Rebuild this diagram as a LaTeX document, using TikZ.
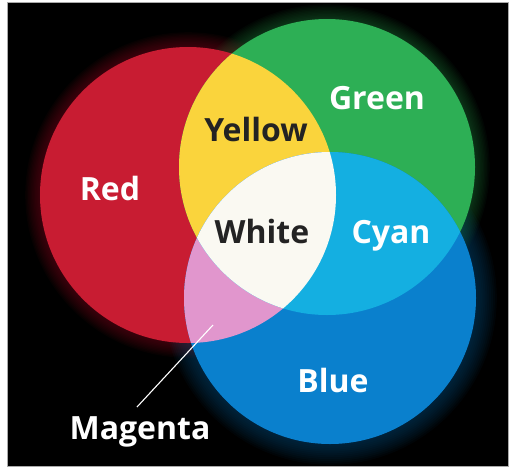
\documentclass[tikz,border=0pt]{standalone}
\usepackage{fontspec}
\setmainfont{Open Sans}
\definecolor{cR}{RGB}{200,28,50}
\definecolor{cG}{RGB}{45,175,85}
\definecolor{cB}{RGB}{10,128,205}
\definecolor{cY}{RGB}{250,212,60}
\definecolor{cM}{RGB}{225,150,205}
\definecolor{cC}{RGB}{20,175,225}
\definecolor{cW}{RGB}{250,249,242}
\definecolor{txtdark}{RGB}{35,35,35}
\definecolor{frame}{RGB}{170,170,170}
\tikzset{
  lbl/.style={font=\bfseries\fontsize{32}{36}\selectfont, anchor=base, inner sep=0pt},
  lightlbl/.style={lbl, text=white},
  darklbl/.style={lbl, text=txtdark},
  pointer/.style={draw=white, line width=1.1pt},
}
\begin{document}
\begin{tikzpicture}[x=1pt,y=-1pt]
\useasboundingbox (0,0) rectangle (511,469);
\fill[white] (0,0) rectangle (511,469);
\filldraw[fill=black, draw=frame, line width=0.8pt] (7.5,2.5) rectangle (508,466.5);
\coordinate (R) at (188,195);
\coordinate (G) at (327,167);
\coordinate (B) at (330,298);
% soft glows fading into the black
\foreach \i in {1,...,12} {
  \fill[cR!70!black, opacity=0.05] (R) circle ({146+\i*1.4});
  \fill[cG!70!black, opacity=0.05] (G) circle ({146+\i*1.4});
  \fill[cB!60!black, opacity=0.06] (B) circle ({144+\i*1.9});
}
% primary discs
\fill[cR] (R) circle (148);
\fill[cG] (G) circle (148);
\fill[cB] (B) circle (146);
% pair overlaps
\begin{scope}\clip (R) circle (148); \fill[cY] (G) circle (148);\end{scope}
\begin{scope}\clip (R) circle (148); \fill[cM] (B) circle (146);\end{scope}
\begin{scope}\clip (G) circle (148); \fill[cC] (B) circle (146);\end{scope}
\begin{scope}\clip (R) circle (148); \clip (G) circle (148); \fill[cW] (B) circle (146);\end{scope}
% labels
\node[lightlbl] (red) at (110,200) {Red};
\node[darklbl] (yellow) at (256,141) {Yellow};
\node[lightlbl] (green) at (377,109) {Green};
\node[darklbl] (white) at (262,243) {White};
\node[lightlbl] (cyan) at (391,243) {Cyan};
\node[lightlbl] (blue) at (333,392) {Blue};
\node[lightlbl] (mag) at (140,439) {Magenta};
\coordinate (mp) at (213,325);
\coordinate (me) at (137,407);
\draw[pointer] (mp) -- (me);
\end{tikzpicture}
\end{document}
